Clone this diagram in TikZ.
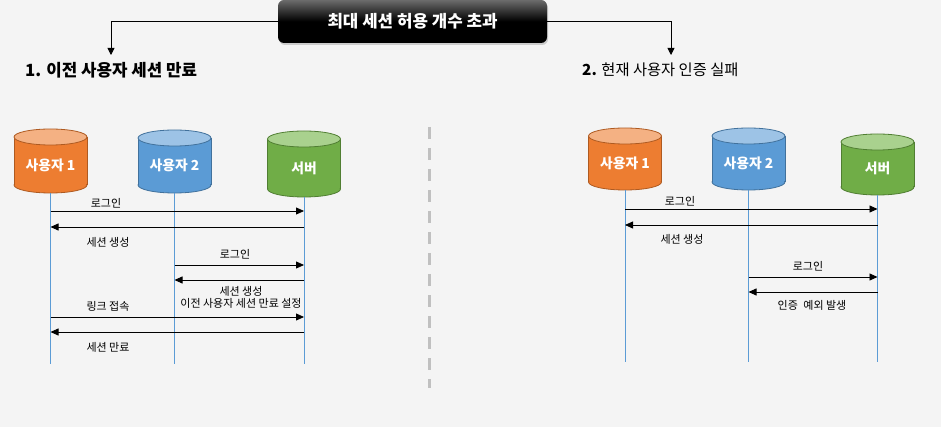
\documentclass[tikz,border=0pt]{standalone}
\usepackage{fontspec}
\setmainfont{Noto Sans CJK KR}
\usetikzlibrary{arrows.meta,shadows}
\definecolor{bg}{HTML}{F4F4F4}
\definecolor{orbody}{HTML}{ED7D31}
\definecolor{orend}{HTML}{F4B183}
\definecolor{orline}{HTML}{AE5A21}
\definecolor{blbody}{HTML}{5B9BD5}
\definecolor{blend}{HTML}{9DC3E6}
\definecolor{blline}{HTML}{41719C}
\definecolor{grbody}{HTML}{70AD47}
\definecolor{grend}{HTML}{A9D18E}
\definecolor{grline}{HTML}{507E32}
\definecolor{lifec}{HTML}{5B9BD5}
\definecolor{sepc}{HTML}{C0C0C0}
\newcommand\mycyl[8]{%
  \fill[#5] ({#2-36.5},{#3+8}) rectangle ({#2+36.5},{#4-8});
  \fill[#5] (#2,{#4-8}) ellipse [x radius=36.5, y radius=8];
  \begin{scope}
    \clip ({#2-40},{#4-8}) rectangle ({#2+40},{#4+2});
    \draw[#7, line width=0.8pt] (#2,{#4-8}) ellipse [x radius=36.5, y radius=8];
  \end{scope}
  \draw[#7, line width=0.8pt] ({#2-36.5},{#3+8}) -- ({#2-36.5},{#4-8})
        ({#2+36.5},{#3+8}) -- ({#2+36.5},{#4-8});
  \filldraw[fill=#6, draw=#7, line width=0.8pt] (#2,{#3+8}) ellipse [x radius=36.5, y radius=8];
  \node[cyltext] (#1) at (#2,{(#3+8+#4)/2}) {#8};
  \coordinate (#1b) at (#2,#4);
}
\begin{document}
\begin{tikzpicture}[x=1pt,y=-1pt,
  cyltext/.style={text=white, font=\fontsize{13.8}{16}\selectfont\bfseries, inner sep=0pt},
  life/.style={draw=lifec, line width=0.8pt},
  msg/.style={draw=black, line width=0.8pt, -{Triangle[length=8pt,width=7pt]}},
  lbl/.style={font=\fontsize{11}{12}\selectfont, inner sep=0pt, align=center},
  ttl/.style={anchor=west, inner sep=0pt},
  conn/.style={draw=black, line width=0.8pt, -{Triangle[length=7pt,width=7pt]}},
  topbox/.style={rounded corners=6pt, minimum width=269pt, minimum height=43pt,
    top color=black!58, bottom color=black, middle color=black,
    drop shadow={shadow xshift=1pt, shadow yshift=-2pt, opacity=0.35},
    text=white, font=\fontsize{16.8}{18}\selectfont\bfseries},
  sep/.style={draw=sepc, line width=3pt, dash pattern=on 12pt off 9pt}
]
\fill[bg] (0,0) rectangle (941,427);
\useasboundingbox (0,0) rectangle (941,427);

% top box and connectors
\node[topbox] (top) at (412.5,21.5) {최대 세션 허용 개수 초과};
\coordinate (t1) at (111,55);
\coordinate (t2) at (671,55);
\draw[conn] (top.west) -| (t1);
\draw[conn] (top.east) -| (t2);
\node[ttl, font=\fontsize{16.8}{18}\selectfont\bfseries] (h1) at (25,70) {1. 이전 사용자 세션 만료};
\node[ttl, font=\fontsize{15.3}{18}\selectfont] (h2) at (582,70) {\bfseries 2.\mdseries{} 현재 사용자 인증 실패};

% separator
\coordinate (s1) at (429.5,127);
\coordinate (s2) at (429.5,388);
\draw[sep] (s1) -- (s2);

% left panel
\mycyl{a1}{50.5}{129}{193}{orbody}{orend}{orline}{사용자 1}
\mycyl{a2}{174.5}{130}{193}{blbody}{blend}{blline}{사용자 2}
\mycyl{a3}{304}{131}{197}{grbody}{grend}{grline}{서버}
\coordinate (a1e) at (50.5,364);
\coordinate (a2e) at (174.5,364);
\coordinate (a3e) at (304,364);
\draw[life] (a1b) -- (a1e);
\draw[life] (a2b) -- (a2e);
\draw[life] (a3b) -- (a3e);

\draw[msg] (a1b |- 0,211) -- (a3b |- 0,211);
\node[lbl] (la1) at (106,203) {로그인};
\draw[msg] (a3b |- 0,227) -- (a1b |- 0,227);
\node[lbl] (la2) at (108,242) {세션 생성};
\draw[msg] (a2b |- 0,265) -- (a3b |- 0,265);
\node[lbl] (la3) at (235,254) {로그인};
\draw[msg] (a3b |- 0,280) -- (a2b |- 0,280);
\node[lbl] (la4) at (241,297) {세션 생성\\이전 사용자 세션 만료 설정};
\draw[msg] (a1b |- 0,317) -- (a3b |- 0,317);
\node[lbl] (la5) at (108,306) {링크 접속};
\draw[msg] (a3b |- 0,332) -- (a1b |- 0,332);
\node[lbl] (la6) at (108,347) {세션 만료};

% right panel
\mycyl{b1}{625}{128}{190}{orbody}{orend}{orline}{사용자 1}
\mycyl{b2}{748.5}{128}{190}{blbody}{blend}{blline}{사용자 2}
\mycyl{b3}{877.5}{134}{195}{grbody}{grend}{grline}{서버}
\coordinate (b1e) at (625,362);
\coordinate (b2e) at (748.5,362);
\coordinate (b3e) at (877.5,362);
\draw[life] (b1b) -- (b1e);
\draw[life] (b2b) -- (b2e);
\draw[life] (b3b) -- (b3e);

\draw[msg] (b1b |- 0,209) -- (b3b |- 0,209);
\node[lbl] (lb1) at (680,201) {로그인};
\draw[msg] (b3b |- 0,225) -- (b1b |- 0,225);
\node[lbl] (lb2) at (682,239) {세션 생성};
\draw[msg] (b2b |- 0,277) -- (b3b |- 0,277);
\node[lbl] (lb3) at (808,266) {로그인};
\draw[msg] (b3b |- 0,292) -- (b2b |- 0,292);
\node[lbl] (lb4) at (812,305) {인증\enspace 예외 발생};
\end{tikzpicture}
\end{document}
